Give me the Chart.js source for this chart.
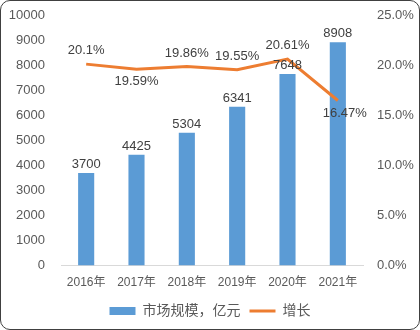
<!DOCTYPE html>
<html>
<head>
<meta charset="utf-8">
<script src="https://cdn.jsdelivr.net/npm/chart.js@4"></script>
<style>
  html, body { margin: 0; padding: 0; background: #fff; }
  #frame {
    position: relative;
    width: 420px; height: 330px;
    box-sizing: border-box;
    border: 1px solid #404040;
    border-radius: 10px;
    overflow: hidden;
  }
  #chart { position: absolute; left: 0; top: 0; }
</style>
</head>
<body>
<div id="frame"><canvas id="chart" width="418" height="328"></canvas></div>
<script>
// market size by year and yearly growth
const years = ['2016年', '2017年', '2018年', '2019年', '2020年', '2021年'];
const marketSize = [3700, 4425, 5304, 6341, 7648, 8908];
const growth = [20.1, 19.59, 19.86, 19.55, 20.61, 16.47];
const growthLabelSide = ['above', 'below', 'above', 'above', 'above', 'below'];

const FONT = '"Liberation Sans", "Noto Sans CJK SC", sans-serif';
const tickColor = '#595959';
const labelColor = '#404040';

// draws the value labels next to bars and line points
const valueLabels = {
  id: 'valueLabels',
  afterDatasetsDraw(chart) {
    const ctx = chart.ctx;
    ctx.save();
    ctx.font = '13px ' + FONT;
    ctx.fillStyle = labelColor;
    ctx.textAlign = 'center';

    const bars = chart.getDatasetMeta(0).data;
    bars.forEach((bar, i) => {
      ctx.textBaseline = 'bottom';
      ctx.fillText(String(marketSize[i]), bar.x, bar.y - 2);
    });

    const pts = chart.getDatasetMeta(1).data;
    pts.forEach((pt, i) => {
      const txt = growth[i] + '%';
      if (growthLabelSide[i] === 'above') {
        ctx.textBaseline = 'bottom';
        ctx.fillText(txt, pt.x, pt.y - 7);
      } else {
        ctx.textBaseline = 'top';
        ctx.fillText(txt, pt.x + (i === growth.length - 1 ? 7 : 0), pt.y + 6);
      }
    });
    ctx.restore();
  }
};

new Chart(document.getElementById('chart'), {
  data: {
    labels: years,
    datasets: [
      {
        type: 'bar',
        label: '市场规模，亿元',
        data: marketSize,
        backgroundColor: '#5B9BD5',
        borderWidth: 0,
        barPercentage: 0.32,
        categoryPercentage: 1,
        pointStyle: 'rect',
        yAxisID: 'y',
        order: 2
      },
      {
        type: 'line',
        label: '增长',
        data: growth,
        borderColor: '#ED7D31',
        backgroundColor: '#ED7D31',
        borderWidth: 3,
        pointRadius: 0,
        pointStyle: 'line',
        tension: 0,
        yAxisID: 'y1',
        order: 1
      }
    ]
  },
  options: {
    responsive: false,
    animation: false,
    layout: { padding: { top: 0, bottom: 1, left: 0, right: 0 } },
    plugins: {
      tooltip: { enabled: false },
      legend: {
        position: 'bottom',
        labels: {
          usePointStyle: true,
          pointStyleWidth: 26,
          boxHeight: 8,
          padding: 9,
          color: tickColor,
          font: { family: FONT, size: 14 },
          sort: (a, b) => a.datasetIndex - b.datasetIndex
        }
      }
    },
    scales: {
      x: {
        grid: { display: false, drawTicks: false },
        border: { display: true, color: '#D9D9D9', width: 1 },
        ticks: { color: tickColor, font: { family: FONT, size: 12 }, padding: 10 },
        afterFit(scale) { scale.height -= 5; }
      },
      y: {
        position: 'left',
        min: 0, max: 10000,
        grid: { display: false, drawTicks: false },
        border: { display: false },
        ticks: {
          stepSize: 1000,
          color: tickColor,
          font: { family: FONT, size: 13 },
          padding: 16,
          callback: v => String(v)
        },
        afterFit(scale) { scale.width = 60; scale.paddingTop = 14; }
      },
      y1: {
        position: 'right',
        min: 0, max: 25,
        grid: { display: false, drawTicks: false },
        border: { display: false },
        ticks: {
          stepSize: 5,
          color: tickColor,
          font: { family: FONT, size: 13 },
          padding: 14,
          callback: v => v.toFixed(1) + '%'
        },
        afterFit(scale) { scale.width = 56; scale.paddingTop = 14; }
      }
    }
  },
  plugins: [valueLabels]
});
</script>
</body>
</html>
